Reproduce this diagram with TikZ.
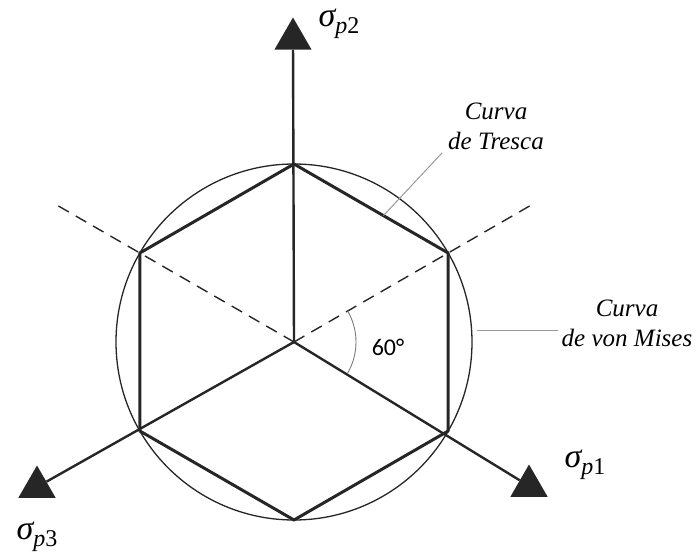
\documentclass[tikz,border=0pt]{standalone}
\usepackage{fontspec}
\usetikzlibrary{shapes.geometric,calc}
\newfontfamily\carlito{Carlito}
\newfontfamily\serifit{Liberation Serif}
\definecolor{tinta}{HTML}{262626}
\definecolor{guia}{HTML}{9A9A9A}
\newcommand{\sig}[1]{{\serifit\itshape\fontsize{34}{34}\selectfont σ}\raisebox{-7pt}{\serifit\fontsize{24}{24}\selectfont\itshape p\upshape #1}}

\tikzset{
  eje/.style={line width=2.4pt,draw=tinta},
  punta/.style={regular polygon,regular polygon sides=3,fill=tinta,minimum size=43pt,inner sep=0pt},
  etiq/.style={font=\serifit\fontsize{25}{30}\selectfont\itshape,align=center,inner sep=0pt},
  sigma/.style={inner sep=0pt},
}

\begin{document}
\begin{tikzpicture}[x=1pt,y=-1pt]
\useasboundingbox (0,0) rectangle (696,553);
\coordinate (o) at (294,342);
% hexagono de Tresca
\foreach \a [count=\i] in {90,30,-30,-90,-150,150}
  \coordinate (v\i) at ($(o)+(\a:178pt)$);
\draw[tinta,line width=1.3pt] (o) circle[radius=178pt];
\draw[tinta,line width=1.4pt,dash pattern=on 12pt off 8pt] (o) -- ($(o)+(150:272pt)$);
\draw[tinta,line width=1.4pt,dash pattern=on 12pt off 8pt] (o) -- ($(o)+(30:272pt)$);
\draw[tinta,line width=3pt,line join=round] (v1) -- (v2) -- (v3) -- (v4) -- (v5) -- (v6) -- cycle;
% ejes principales
\node[punta] (p2) at (293,39) {};
\node[punta] (p1) at (529,486) {};
\node[punta] (p3) at (37,487) {};
\draw[eje] (o) -- (p2);
\draw[eje] (o) -- (p1);
\draw[eje] (o) -- (p3);
\node[sigma] (s2) at (339,24) {\sig{2}};
\node[sigma] (s1) at (585,465) {\sig{1}};
\node[sigma] (s3) at (37,537) {\sig{3}};
% angulo
\draw[guia!80!black,line width=0.9pt] ($(o)+(30:62pt)$) arc[start angle=30,end angle=-30,radius=62pt];
\node[font=\fontsize{24}{28}\carlito] (ang) at (388,347) {60°};
% rotulos
\coordinate (t0) at ($(v1)!0.58!(v2)$);
\coordinate (t1) at (442,153);
\draw[guia,line width=1pt] (t0) -- (t1);
\node[etiq] (tresca) at (496,126) {Curva\\de Tresca};
\coordinate (m0) at (477,330);
\coordinate (m1) at (558,330);
\draw[guia,line width=1pt] (m0) -- (m1);
\node[etiq] (mises) at (627,323) {Curva\\de von Mises};
\end{tikzpicture}
\end{document}
